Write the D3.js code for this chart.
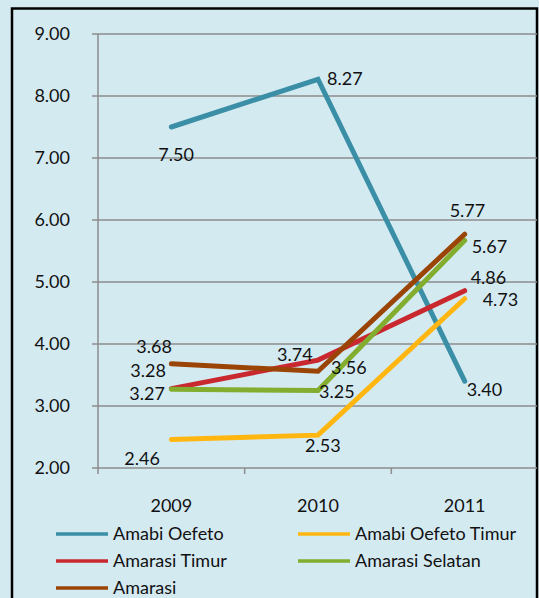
<!DOCTYPE html>
<html>
<head>
<meta charset="utf-8">
<script src="https://cdn.jsdelivr.net/npm/d3@7"></script>
<style>
  html, body { margin: 0; padding: 0; background: #d4eaf1; }
  svg { display: block; font-family: Lato, 'Open Sans', sans-serif; }
</style>
</head>
<body>
<svg width="539" height="598"></svg>
<script>
var years = ['2009', '2010', '2011'];
var seriesNames = ['Amabi Oefeto', 'Amabi Oefeto Timur', 'Amarasi Timur', 'Amarasi Selatan', 'Amarasi'];
var amabiOefeto = [7.50, 8.27, 3.40];
var amabiOefetoTimur = [2.46, 2.53, 4.73];
var amarasiTimur = [3.28, 3.74, 4.86];
var amarasiSelatan = [3.27, 3.25, 5.67];
var amarasi = [3.68, 3.56, 5.77];
var yTicks = [2, 3, 4, 5, 6, 7, 8, 9];

var seriesValues = [amabiOefeto, amabiOefetoTimur, amarasiTimur, amarasiSelatan, amarasi];
var colors = ['#3a8fa6', '#ffb611', '#c9282f', '#83ad2f', '#9a4505'];

// label offsets (dx, dy) from each point, like excel's manual label placement
var labelOffsets = [
  [[-13, 34], [9, 6], [2, 15]],
  [[-47, 26], [-13, 17], [18, 7]],
  [[-41, -12], [-41, 1], [6, -7]],
  [[-42, 11], [1, 7], [7, 13]],
  [[-35, -11], [13, 3], [-15, -17]]
];

var svg = d3.select('svg'),
  margin = { top: 34, right: 1, bottom: 130, left: 98 },
  width = 539,
  height = 598;

// outer frame
svg.append('rect')
  .attr('x', 12).attr('y', 8.5)
  .attr('width', 525).attr('height', 620)
  .attr('fill', '#d4eaf1')
  .attr('stroke', '#000').attr('stroke-width', 2.5);

var xScale = d3.scaleBand()
    .domain(years)
    .range([margin.left, width - margin.right])
    .padding(0),
  yScale = d3.scaleLinear()
    .domain([2, 9])
    .range([height - margin.bottom, margin.top]);

var g = svg.append('g');

// gridlines + y ticks
g.selectAll('line.grid')
  .data(yTicks)
  .enter()
  .append('line')
  .attr('class', 'grid')
  .attr('x1', margin.left - 6)
  .attr('x2', 537)
  .attr('y1', (d) => yScale(d))
  .attr('y2', (d) => yScale(d))
  .attr('stroke', '#8d8d8d')
  .attr('stroke-width', 1.5);

g.selectAll('text.ytick')
  .data(yTicks)
  .enter()
  .append('text')
  .attr('class', 'ytick')
  .attr('x', 70)
  .attr('y', (d) => yScale(d))
  .attr('dy', '0.36em')
  .attr('text-anchor', 'end')
  .attr('font-size', 18)
  .attr('fill', '#111')
  .text((d) => d3.format('.2f')(d));

// y axis line
g.append('line')
  .attr('x1', margin.left).attr('x2', margin.left)
  .attr('y1', yScale(9)).attr('y2', yScale(2) + 6)
  .attr('stroke', '#8d8d8d').attr('stroke-width', 1.5);

// x ticks at band boundaries
g.selectAll('line.xtick')
  .data(years.slice(1))
  .enter()
  .append('line')
  .attr('class', 'xtick')
  .attr('x1', (d) => xScale(d))
  .attr('x2', (d) => xScale(d))
  .attr('y1', yScale(2))
  .attr('y2', yScale(2) + 6)
  .attr('stroke', '#8d8d8d').attr('stroke-width', 1.5);

g.selectAll('text.xlabel')
  .data(years)
  .enter()
  .append('text')
  .attr('class', 'xlabel')
  .attr('x', (d) => xScale(d) + xScale.bandwidth() / 2)
  .attr('y', 512)
  .attr('text-anchor', 'middle')
  .attr('font-size', 18)
  .attr('fill', '#111')
  .text((d) => d);

var cx = (i) => xScale(years[i]) + xScale.bandwidth() / 2;

var line = d3.line()
  .x((d, i) => cx(i))
  .y((d) => yScale(d));

seriesValues.forEach(function (vals, s) {
  g.append('path')
    .datum(vals)
    .attr('d', line)
    .attr('fill', 'none')
    .attr('stroke', colors[s])
    .attr('stroke-width', 5)
    .attr('stroke-linecap', 'round')
    .attr('stroke-linejoin', 'miter');
});

seriesValues.forEach(function (vals, s) {
  g.selectAll(null)
    .data(vals)
    .enter()
    .append('text')
    .attr('x', (d, i) => cx(i) + labelOffsets[s][i][0])
    .attr('y', (d, i) => yScale(d) + labelOffsets[s][i][1])
    .attr('font-size', 18)
    .attr('fill', '#111')
    .text((d) => d3.format('.2f')(d));
});

// legend, two columns
var legend = g.selectAll('g.legend')
  .data(seriesNames)
  .enter()
  .append('g')
  .attr('class', 'legend')
  .attr('transform', (d, i) => 'translate(' + (i % 2 ? 298 : 56) + ',' + (534 + Math.floor(i / 2) * 27) + ')');

legend.append('line')
  .attr('x1', 0).attr('x2', 52)
  .attr('stroke', (d, i) => colors[i])
  .attr('stroke-width', 3.5);

legend.append('text')
  .attr('x', 57)
  .attr('dy', '0.36em')
  .attr('font-size', 18)
  .attr('fill', '#111')
  .text((d) => d);
</script>
</body>
</html>
